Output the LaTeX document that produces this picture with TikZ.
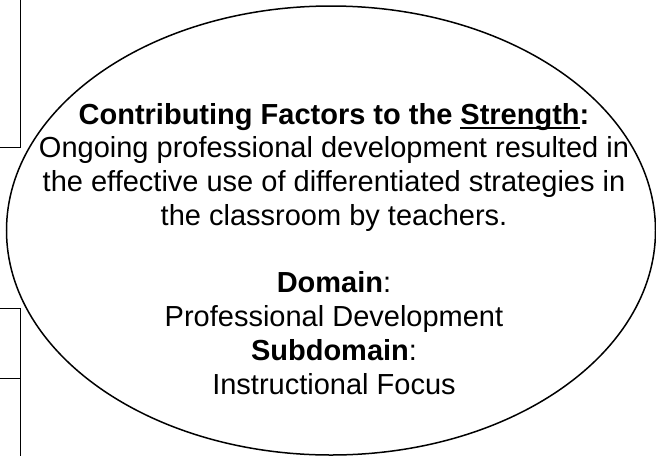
\documentclass[tikz,border=0pt]{standalone}
\usepackage{fontspec}
\setmainfont{Liberation Sans}
\usetikzlibrary{shapes.geometric}
\newcommand\myul[1]{\setbox0\hbox{#1}\rlap{\rule[-4.5pt]{\wd0}{2pt}}#1}
\begin{document}
\begin{tikzpicture}[x=1pt,y=-1pt,
  frame/.style={draw=black,line width=1pt},
  oval/.style={draw=black,line width=1.5pt,ellipse,minimum width=649pt,minimum height=449pt,inner sep=0pt},
  body/.style={align=center,font=\fontsize{29}{33.75}\selectfont,inner sep=0pt}]
\useasboundingbox (0,0) rectangle (656,456);
\node[oval] (ell) at (331,230.5) {};
\node[body] (txt) at (334,248.8) {\textbf{Contributing Factors to the \myul{Strength}:}\\
Ongoing professional development resulted in\\
the effective use of differentiated strategies in\\
the classroom by teachers.\\[33.75pt]
\textbf{Domain}:\\
Professional Development\\
\textbf{Subdomain}:\\
Instructional Focus};
\draw[frame] (0,147) -- (20,147) -- (20,0);
\draw[frame] (0,378) -- (20,378);
\draw[frame] (0,308) -- (20,308) -- (20,456);
\end{tikzpicture}
\end{document}
